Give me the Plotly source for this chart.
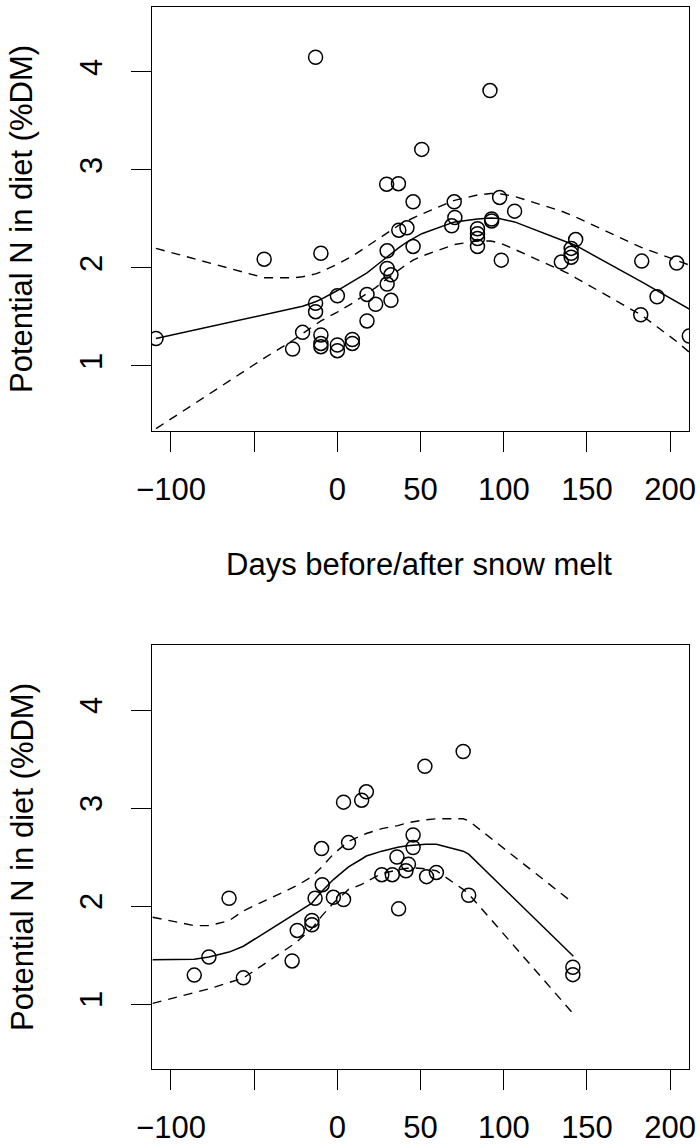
import plotly.graph_objects as go

# ---------------- data: top panel ----------------
top_days = [-109.0, -44.0, -26.9, -20.9, -13.1, -13.1, -13.1, -9.9, -9.9, -9.9, -9.9,
            0.0, 0.0, 0.0, 9.0, 9.0, 17.8, 17.8, 23.0, 29.6, 29.9, 29.9, 32.2, 29.9, 32.2,
            36.7, 36.9, 41.8, 45.5, 45.5, 50.7, 68.7, 70.2, 70.6, 84.2, 84.2, 84.2, 84.2,
            91.7, 92.7, 92.7, 97.5, 98.5, 106.5, 134.6, 140.5, 140.5, 140.5, 143.2,
            182.3, 182.9, 192.1, 203.9, 211.5]
top_n = [1.28, 2.09, 1.173, 1.343, 4.15, 1.64, 1.554, 2.15, 1.316, 1.23, 1.197,
         1.717, 1.214, 1.156, 1.27, 1.23, 1.73, 1.46, 1.63, 2.855, 2.175, 1.995, 1.93, 1.836, 1.67,
         2.86, 2.386, 2.41, 2.675, 2.22, 3.21, 2.43, 2.675, 2.515, 2.40, 2.35, 2.30, 2.22,
         3.81, 2.50, 2.48, 2.72, 2.08, 2.58, 2.06, 2.20, 2.15, 2.11, 2.29,
         1.523, 2.07, 1.706, 2.05, 1.306]

top_fit_days = [-109.0, -44.0, -26.9, -20.9, -13.1, -9.9, 0.0, 9.0, 17.8, 23.0, 29.9, 32.2,
                36.8, 41.8, 45.5, 50.7, 68.7, 70.4, 84.2, 92.2, 97.5, 98.5, 106.5, 134.6,
                140.5, 143.2, 182.6, 192.1, 203.9, 211.5]
top_fit = [1.28, 1.52, 1.585, 1.61, 1.655, 1.68, 1.77, 1.86, 1.95, 2.02, 2.115, 2.15,
           2.205, 2.265, 2.30, 2.35, 2.46, 2.47, 2.50, 2.51, 2.505, 2.50, 2.47, 2.29,
           2.25, 2.23, 1.86, 1.77, 1.66, 1.58]
top_upper = [2.20, 1.90, 1.90, 1.91, 1.94, 1.96, 2.04, 2.12, 2.22, 2.28, 2.355, 2.385,
             2.435, 2.48, 2.51, 2.55, 2.68, 2.69, 2.745, 2.76, 2.76, 2.755, 2.73, 2.58,
             2.54, 2.52, 2.21, 2.15, 2.08, 2.03]
top_lower = [0.36, 1.08, 1.26, 1.33, 1.42, 1.46, 1.55, 1.64, 1.74, 1.80, 1.89, 1.92,
             1.98, 2.04, 2.08, 2.12, 2.23, 2.24, 2.275, 2.275, 2.255, 2.25, 2.19, 1.98,
             1.93, 1.90, 1.52, 1.40, 1.25, 1.14]

# ---------------- data: bottom panel ----------------
bot_days = [-86.0, -77.2, -65.1, -56.5, -27.2, -24.1, -15.3, -15.3, -13.4, -9.1, -9.5,
            -2.4, 3.7, 3.7, 6.7, 14.6, 17.4, 26.7, 33.0, 35.8, 36.8, 41.2, 42.7, 45.5, 45.5,
            53.6, 59.5, 52.6, 75.6, 78.9, 141.5, 141.5]
bot_n = [1.295, 1.48, 2.079, 1.267, 1.44, 1.751, 1.853, 1.809, 2.079, 2.218, 2.586,
         2.089, 2.066, 3.06, 2.647, 3.08, 3.165, 2.32, 2.32, 2.50, 1.971, 2.36, 2.427, 2.725, 2.597,
         2.30, 2.343, 3.425, 3.577, 2.11, 1.375, 1.30]

bot_fit_days = [-111.0, -86.0, -77.2, -65.1, -56.5, -27.2, -24.1, -15.3, -13.4, -9.3, -2.4,
                3.7, 6.7, 14.6, 17.4, 26.7, 33.0, 36.3, 42.0, 45.5, 53.1, 59.5, 75.6, 78.9, 141.8]
bot_fit = [1.453, 1.457, 1.48, 1.53, 1.59, 1.90, 1.93, 2.03, 2.07, 2.15, 2.27,
           2.36, 2.40, 2.48, 2.51, 2.56, 2.59, 2.60, 2.615, 2.62, 2.63, 2.63, 2.56, 2.53, 1.487]
bot_upper = [1.886, 1.80, 1.80, 1.85, 1.95, 2.19, 2.21, 2.30, 2.33, 2.40, 2.53,
             2.62, 2.66, 2.72, 2.74, 2.79, 2.81, 2.82, 2.85, 2.86, 2.88, 2.89, 2.89, 2.87, 2.03]
bot_lower = [1.007, 1.12, 1.155, 1.22, 1.265, 1.60, 1.64, 1.77, 1.81, 1.90, 2.03,
             2.12, 2.17, 2.22, 2.25, 2.33, 2.36, 2.37, 2.385, 2.39, 2.38, 2.36, 2.17, 2.123, 0.90]

x_tickvals = [-100, -50, 0, 50, 100, 150, 200]
x_ticktext = ["\u2212100", "", "0", "50", "100", "150", "200"]
y_tickvals = [1, 2, 3, 4]
y_ticktext = ["1", "2", "3", "4"]

x_title = "Days before/after snow melt"
y_title = "Potential N in diet (%DM)"

FONT = "Liberation Sans, Arial, Helvetica, sans-serif"
FS = 31

fig = go.Figure()


def add_panel(days, vals, fx, fit, up, lo, xa, ya):
    fig.add_trace(go.Scatter(x=fx, y=up, mode="lines", xaxis=xa, yaxis=ya,
                             line=dict(color="black", width=1.4, dash="9px,7px"),
                             showlegend=False, hoverinfo="skip"))
    fig.add_trace(go.Scatter(x=fx, y=lo, mode="lines", xaxis=xa, yaxis=ya,
                             line=dict(color="black", width=1.4, dash="9px,7px"),
                             showlegend=False, hoverinfo="skip"))
    fig.add_trace(go.Scatter(x=fx, y=fit, mode="lines", xaxis=xa, yaxis=ya,
                             line=dict(color="black", width=1.5),
                             showlegend=False, hoverinfo="skip"))
    fig.add_trace(go.Scatter(x=days, y=vals, mode="markers", xaxis=xa, yaxis=ya,
                             marker=dict(symbol="circle-open", size=14, color="black",
                                         line=dict(width=1.5, color="black")),
                             cliponaxis=True, showlegend=False))


add_panel(top_days, top_n, top_fit_days, top_fit, top_upper, top_lower, "x", "y")
add_panel(bot_days, bot_n, bot_fit_days, bot_fit, bot_upper, bot_lower, "x2", "y2")

xax = dict(range=[-111.4, 211.3], tickmode="array", tickvals=x_tickvals, ticktext=x_ticktext,
           showline=True, linecolor="black", linewidth=1.4, mirror=True,
           ticks="outside", ticklen=20, tickwidth=1.4, tickcolor="black",
           showgrid=False, zeroline=False, automargin=False,
           tickfont=dict(family=FONT, size=FS, color="black"), ticklabelstandoff=11)
yax = dict(range=[0.337, 4.663], tickmode="array", tickvals=y_tickvals, ticktext=y_ticktext,
           showline=True, linecolor="black", linewidth=1.4, mirror=True,
           ticks="outside", ticklen=20, tickwidth=1.4, tickcolor="black",
           showgrid=False, zeroline=False, automargin=False, tickangle=-90,
           tickfont=dict(family=FONT, size=FS, color="black"), ticklabelstandoff=16)

top_dom = [0.6008, 1.0]
bot_dom = [0.0, 0.3992]

fig.update_layout(
    width=700, height=1145,
    margin=dict(l=152, r=11, t=7, b=76),
    paper_bgcolor="white", plot_bgcolor="white",
    template="none",
    xaxis=dict(**xax, anchor="y", domain=[0, 1]),
    yaxis=dict(**yax, anchor="x", domain=top_dom),
    xaxis2=dict(**xax, anchor="y2", domain=[0, 1]),
    yaxis2=dict(**yax, anchor="x2", domain=bot_dom),
    annotations=[
        dict(text=y_title, xref="paper", yref="paper", x=-0.2421, y=(top_dom[0] + top_dom[1]) / 2,
             textangle=-90, showarrow=False, xanchor="center", yanchor="middle",
             font=dict(family=FONT, size=FS, color="black")),
        dict(text=y_title, xref="paper", yref="paper", x=-0.2421, y=(bot_dom[0] + bot_dom[1]) / 2,
             textangle=-90, showarrow=False, xanchor="center", yanchor="middle",
             font=dict(family=FONT, size=FS, color="black")),
        dict(text=x_title, xref="paper", yref="paper", x=0.497, y=0.4746,
             showarrow=False, xanchor="center", yanchor="middle",
             font=dict(family=FONT, size=FS, color="black")),
    ],
)

fig.write_html("out.html", config={"displayModeBar": False},
               post_script="document.body.style.margin='0';document.body.style.overflow='hidden';")
